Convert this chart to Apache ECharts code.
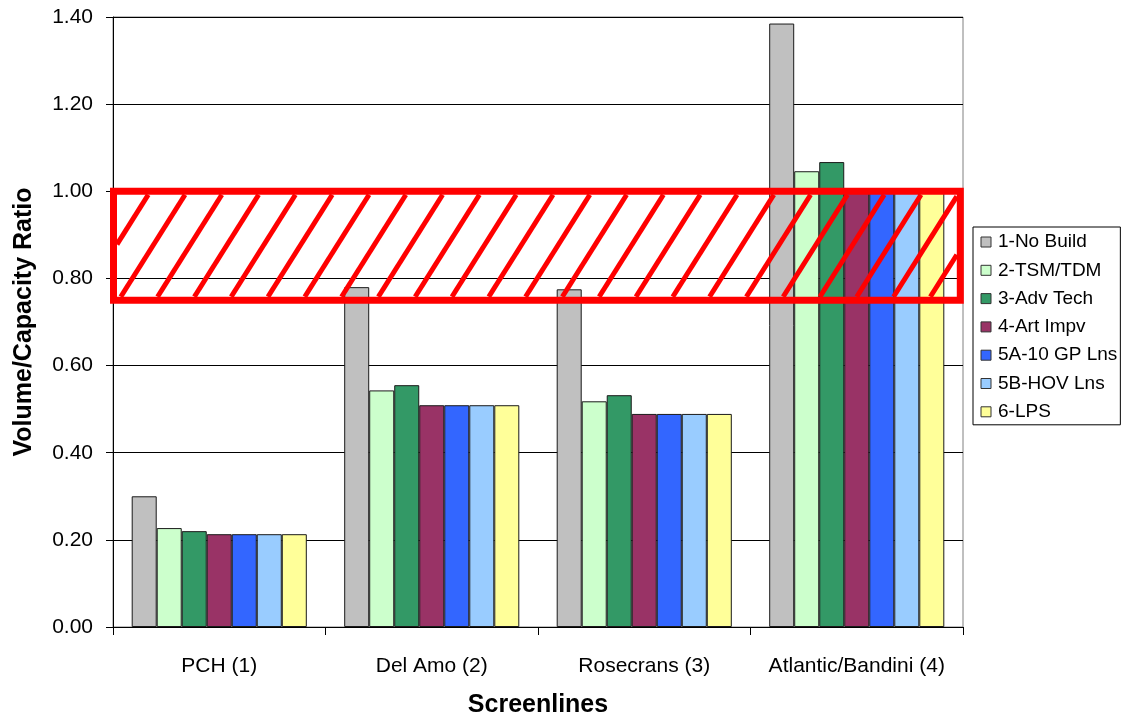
<!DOCTYPE html>
<html>
<head>
<meta charset="utf-8">
<script src="https://cdn.jsdelivr.net/npm/echarts@6/dist/echarts.min.js"></script>
<style>
html,body{margin:0;padding:0;background:#fff;}
#chart{width:1121px;height:723px;}
</style>
</head>
<body>
<div id="chart"></div>
<script>
// ---- data ----
var categories = ['PCH (1)', 'Del Amo (2)', 'Rosecrans (3)', 'Atlantic/Bandini (4)'];
var seriesNames = ['1-No Build', '2-TSM/TDM', '3-Adv Tech', '4-Art Impv', '5A-10 GP Lns', '5B-HOV Lns', '6-LPS'];
var noBuild = [0.30, 0.78, 0.775, 1.385];
var tsmTdm  = [0.227, 0.543, 0.518, 1.046];
var advTech = [0.220, 0.555, 0.532, 1.067];
var artImpv = [0.213, 0.509, 0.489, 1.00];
var gpLns   = [0.213, 0.509, 0.489, 1.00];
var hovLns  = [0.213, 0.509, 0.489, 1.00];
var lps     = [0.213, 0.509, 0.489, 1.00];
var bandRange = [0.75, 1.00];   // hatched target band (low, high)
var yTicks = { min: 0, max: 1.4, interval: 0.2 };

var seriesValues = [noBuild, tsmTdm, advTech, artImpv, gpLns, hovLns, lps];
var colors = ['#C0C0C0', '#CCFFCC', '#339966', '#993366', '#3366FF', '#99CCFF', '#FFFF99'];
var FONT = "'Liberation Sans', Arial, sans-serif";

var chart = echarts.init(document.getElementById('chart'), null, { renderer: 'canvas' });

var barSeries = seriesNames.map(function (name, i) {
  return {
    name: name,
    type: 'bar',
    data: seriesValues[i],
    barGap: '0%',
    barCategoryGap: '17.6%',
    itemStyle: { color: colors[i], borderColor: '#1a1a1a', borderWidth: 1 },
    emphasis: { disabled: true },
    z: 2
  };
});

function clipX(p1, p2, xL, xR) {
  var x1 = p1[0], y1 = p1[1], x2 = p2[0], y2 = p2[1];
  var dx = x2 - x1, dy = y2 - y1;
  if (x2 < xL || x1 > xR) return null;
  if (x1 < xL) { var t = (xL - p1[0]) / dx; x1 = xL; y1 = p1[1] + t * dy; }
  if (x2 > xR) { var t2 = (xR - p1[0]) / dx; x2 = xR; y2 = p1[1] + t2 * dy; }
  return [x1, y1, x2, y2];
}

var bandSeries = {
  type: 'custom',
  name: 'band',
  silent: true,
  z: 10,
  data: [[0, bandRange[0], bandRange[1]]],
  encode: { x: 0, y: [1, 2] },
  renderItem: function (params, api) {
    var cs = params.coordSys;
    var yHigh = api.coord([0, api.value(2)])[1];
    var yLow = api.coord([0, api.value(1)])[1];
    var lw = 7;
    var left = cs.x + 0.5;
    var right = cs.x + cs.width - 2.7;
    var children = [{
      type: 'rect',
      shape: { x: left, y: yHigh, width: right - left, height: yLow - yHigh },
      style: { fill: 'none', stroke: '#FF0000', lineWidth: lw }
    }];
    var innerTop = yHigh + lw / 2;
    var innerBot = yLow - lw / 2;
    var h = innerBot - innerTop;
    var slope = 0.63;
    var spacing = 36.8;
    var xL = left + lw / 2, xR = right - lw / 2;
    var phase = cs.x + 72;
    for (var k = -40; k < 60; k++) {
      var xt = phase + spacing * k;
      var xb = xt - slope * h;
      var seg = clipX([xb, innerBot], [xt, innerTop], xL, xR);
      if (!seg) continue;
      children.push({
        type: 'line',
        shape: { x1: seg[0], y1: seg[1], x2: seg[2], y2: seg[3] },
        style: { stroke: '#FF0000', lineWidth: 5, lineCap: 'butt' }
      });
    }
    return { type: 'group', children: children };
  }
};

var option = {
  animation: false,
  backgroundColor: '#ffffff',
  textStyle: { fontFamily: FONT, color: '#000' },
  grid: {
    left: 113, right: 158, top: 17, bottom: 91,
    show: true, borderColor: '#808080', borderWidth: 1, backgroundColor: 'transparent'
  },
  legend: {
    orient: 'vertical',
    left: 973, top: 227,
    data: seriesNames,
    itemWidth: 10, itemHeight: 10,
    itemGap: 8.3,
    icon: 'rect',
    padding: [5, 3, 3, 7.5],
    borderColor: '#000', borderWidth: 1,
    backgroundColor: '#fff',
    selectedMode: false,
    itemStyle: { borderColor: '#333', borderWidth: 1 },
    textStyle: { fontFamily: FONT, fontSize: 19, color: '#000', lineHeight: 20, padding: [0, 0, 0, 2] }
  },
  xAxis: {
    type: 'category',
    data: categories,
    name: 'Screenlines',
    nameLocation: 'middle',
    nameGap: 66,
    nameTextStyle: { fontFamily: FONT, fontSize: 25, fontWeight: 'bold', color: '#000' },
    axisLine: { lineStyle: { color: '#000', width: 1 } },
    axisTick: { show: true, length: 8, lineStyle: { color: '#000' } },
    axisLabel: { interval: 0, margin: 29, fontFamily: FONT, fontSize: 21, color: '#000' },
    splitLine: { show: false }
  },
  yAxis: {
    type: 'value',
    min: yTicks.min, max: yTicks.max, interval: yTicks.interval,
    name: 'Volume/Capacity Ratio',
    nameLocation: 'middle',
    nameGap: 76,
    nameRotate: 90,
    nameTextStyle: { fontFamily: FONT, fontSize: 25, fontWeight: 'bold', color: '#000' },
    axisLine: { show: true, lineStyle: { color: '#000', width: 1 } },
    axisTick: { show: true, length: 7, lineStyle: { color: '#000' } },
    axisLabel: {
      margin: 20, fontFamily: FONT, fontSize: 21, color: '#000',
      formatter: function (v) { return v.toFixed(2); }
    },
    splitLine: { show: true, lineStyle: { color: '#000', width: 1 } }
  },
  series: barSeries.concat([bandSeries])
};

chart.setOption(option);
</script>
</body>
</html>
